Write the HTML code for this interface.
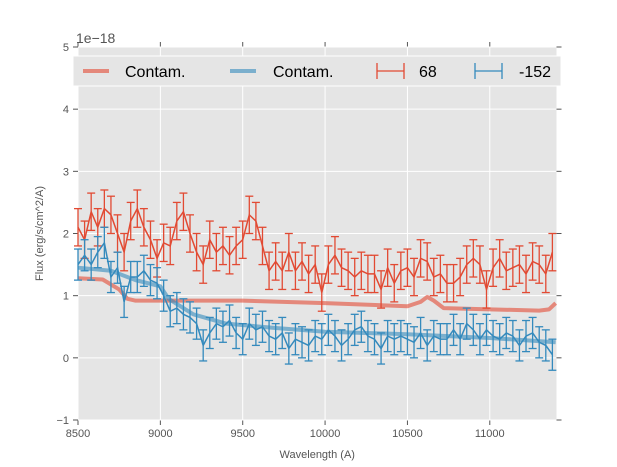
<!DOCTYPE html>
<html><head><meta charset="utf-8"><style>
body{margin:0;background:#fff;font-family:"Liberation Sans","DejaVu Sans",sans-serif}
svg{display:block}
</style></head><body>
<svg id="chart" width="617" height="467" xmlns="http://www.w3.org/2000/svg"></svg>
<script>
const wavelengths = [];
for (let w = 8500; w <= 11380; w += 40) wavelengths.push(w);
const flux68 = [2.1,1.9,2.35,2.1,2.4,2.3,2.0,1.7,2.2,2.4,2.1,1.9,1.6,1.85,1.8,2.2,2.35,2.0,1.7,1.5,1.9,1.7,1.8,1.65,1.8,1.9,2.3,2.2,1.8,1.4,1.55,1.4,1.7,1.4,1.55,1.35,1.5,1.05,1.5,1.65,1.45,1.4,1.3,1.4,1.35,1.35,1.1,1.45,1.2,1.4,1.45,1.3,1.6,1.55,1.3,1.35,1.2,1.2,1.3,1.5,1.6,1.5,1.1,1.45,1.6,1.4,1.45,1.5,1.35,1.55,1.5,1.35,1.7];
const flux152 = [1.5,1.65,1.5,1.7,1.85,1.3,1.45,0.9,1.3,1.3,1.4,1.25,1.2,1.0,0.75,0.8,0.7,0.65,0.55,0.2,0.4,0.55,0.5,0.6,0.4,0.3,0.55,0.45,0.5,0.35,0.3,0.4,0.15,0.3,0.25,0.2,0.35,0.3,0.45,0.35,0.2,0.3,0.45,0.5,0.35,0.3,0.15,0.35,0.3,0.35,0.3,0.25,0.4,0.2,0.35,0.3,0.3,0.45,0.3,0.55,0.45,0.3,0.45,0.35,0.3,0.4,0.35,0.2,0.35,0.4,0.25,0.2,0.05];
const err68 = 0.3;
const err152 = 0.25;
const contamRedX = [8500,8650,8750,8800,8850,9000,9500,10000,10500,10580,10620,10660,10720,11000,11300,11360,11400];
const contamRedY = [1.28,1.26,1.1,0.95,0.92,0.92,0.92,0.88,0.83,0.9,0.98,0.92,0.8,0.78,0.76,0.78,0.88];
const contamBlueX = [8500,8700,8850,9000,9050,9200,9400,9700,10000,10500,11000,11400];
const contamBlueY = [1.45,1.4,1.25,1.15,0.95,0.7,0.55,0.48,0.42,0.38,0.32,0.25];
const xTicks = [8500,9000,9500,10000,10500,11000];
const yTicks = [-1,0,1,2,3,4,5];

const L=78,R=556.5,T=47,B=420,XMIN=8500,XMAX=11405,YMIN=-1,YMAX=5;
const sx=v=>L+(v-XMIN)/(XMAX-XMIN)*(R-L);
const sy=v=>B-(v-YMIN)/(YMAX-YMIN)*(B-T);
const svg=document.getElementById('chart');
const NS='http://www.w3.org/2000/svg';
function mk(tag,attrs,parent){const e=document.createElementNS(NS,tag);for(const k in attrs)e.setAttribute(k,attrs[k]);(parent||svg).appendChild(e);return e;}

const bg=mk('rect',{x:L,y:T,width:R-L,height:B-T,fill:'#e5e5e5'});



xTicks.forEach(t=>{
  const g=mk('line',{x1:sx(t),x2:sx(t),y1:T,y2:B,stroke:'#fff','stroke-width':1});
  
  
  mk('line',{x1:sx(t),x2:sx(t),y1:B,y2:B+5,stroke:'#555'});
  mk('line',{x1:sx(t),x2:sx(t),y1:T,y2:T-5,stroke:'#555'});
  const tx=mk('text',{x:sx(t),y:B+17,'font-size':11,fill:'#555','text-anchor':'middle'});
  tx.textContent=t;
  
  
});
yTicks.forEach(t=>{
  const g=mk('line',{x1:L,x2:R,y1:sy(t),y2:sy(t),stroke:'#fff','stroke-width':1});
  
  
  mk('line',{x1:L-5,x2:L,y1:sy(t),y2:sy(t),stroke:'#555'});
  mk('line',{x1:R,x2:R+5,y1:sy(t),y2:sy(t),stroke:'#555'});
  const tx=mk('text',{x:L-9,y:sy(t)+4,'font-size':11,fill:'#555','text-anchor':'end'});
  tx.textContent=t<0?'\u2212'+(-t):t;
  
  
});

function line(xs,ys,color,w,op,name){
  const p=mk('polyline',{points:xs.map((x,i)=>sx(x)+','+sy(ys[i])).join(' '),fill:'none',stroke:color,'stroke-width':w,'stroke-opacity':op,'stroke-linejoin':'round'});
  
  
}
function errSeries(ys,err,color,name){
  const g=mk('g',{});
  
  
  wavelengths.forEach((w,i)=>{
    const x=sx(w),y1=sy(ys[i]-err),y2=sy(ys[i]+err);
    mk('line',{x1:x,x2:x,y1:y1,y2:y2,stroke:color,'stroke-width':1.3},g);
    mk('line',{x1:x-4,x2:x+4,y1:y1,y2:y1,stroke:color,'stroke-width':1.3},g);
    mk('line',{x1:x-4,x2:x+4,y1:y2,y2:y2,stroke:color,'stroke-width':1.3},g);
  });
  mk('polyline',{points:wavelengths.map((w,i)=>sx(w)+','+sy(ys[i])).join(' '),fill:'none',stroke:color,'stroke-width':1.5},g);
}
line(contamRedX,contamRedY,'#E24A33',4,0.6,'contam-red-line');
line(contamBlueX,contamBlueY,'#348ABD',4,0.6,'contam-blue-line');
errSeries(flux68,err68,'#E24A33','series-68');
errSeries(flux152,err152,'#348ABD','series-minus-152');

const off=mk('text',{x:76,y:43,'font-size':14,fill:'#555'});
off.textContent='1e\u221218';


const xl=mk('text',{x:(L+R)/2,y:458,'font-size':11,fill:'#555','text-anchor':'middle'});
xl.textContent='Wavelength (A)';


const yl=mk('text',{x:0,y:0,'font-size':11,fill:'#555','text-anchor':'middle',transform:'translate(43,'+((T+B)/2)+') rotate(-90)'});
yl.textContent='Flux (erg/s/cm^2/A)';



const lg=mk('g',{});


mk('rect',{x:73,y:56,width:488,height:30,fill:'#e5e5e5',stroke:'#fff','stroke-width':1},lg);
const ly=71;
mk('line',{x1:83,x2:109,y1:ly,y2:ly,stroke:'#E24A33','stroke-width':4,'stroke-opacity':0.6},lg);
mk('line',{x1:230,x2:256,y1:ly,y2:ly,stroke:'#348ABD','stroke-width':4,'stroke-opacity':0.6},lg);
[[377,'#E24A33'],[475,'#348ABD']].forEach(([x,c])=>{
  mk('line',{x1:x,x2:x+27,y1:ly,y2:ly,stroke:c,'stroke-width':1.3},lg);
  mk('line',{x1:x,x2:x,y1:ly-8,y2:ly+8,stroke:c,'stroke-width':1.3},lg);
  mk('line',{x1:x+27,x2:x+27,y1:ly-8,y2:ly+8,stroke:c,'stroke-width':1.3},lg);
});
[[125,'Contam.','legend-contam-red'],[273,'Contam.','legend-contam-blue'],[419,'68','legend-68'],[519,'-152','legend-minus-152']].forEach(([x,t,n])=>{
  const e=mk('text',{x:x,y:ly+6,'font-size':16,fill:'#000'},lg);
  e.textContent=t;
  
  
});
</script>
</body></html>
